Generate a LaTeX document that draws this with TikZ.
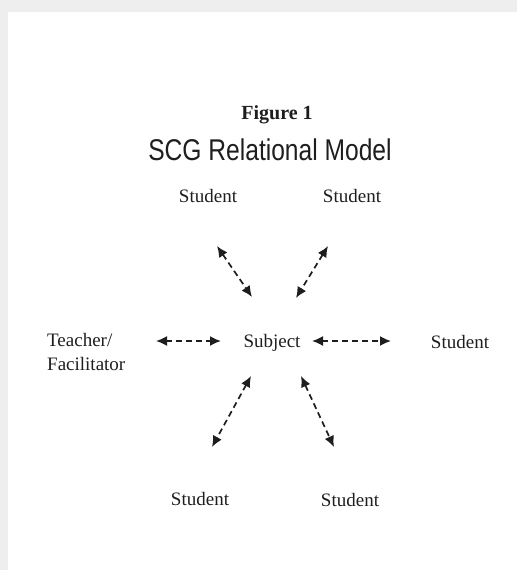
\documentclass[tikz,border=0pt]{standalone}
\usepackage{fontspec}
\setmainfont{Liberation Serif}
\newfontfamily\headfont{Liberation Sans}
\usepackage{tikz}
\usetikzlibrary{arrows.meta}

\definecolor{ink}{HTML}{1E1E1E}
\definecolor{frame}{HTML}{EEEEEE}

\tikzset{
  lbl/.style={inner sep=0pt, anchor=base, text=ink, font=\fontsize{19}{24}\selectfont},
  link/.style={<->, >={Latex[length=11pt,width=10pt]}, dash pattern=on 6pt off 4pt, line width=1.7, ink}
}

\begin{document}
\begin{tikzpicture}[x=1pt,y=-1pt]
  \useasboundingbox (0,0) rectangle (517,570);
  % grey edge round the page
  \fill[frame] (0,0) rectangle (517,12);
  \fill[frame] (0,0) rectangle (8,570);

  % heading
  \node[lbl, font=\fontsize{20}{24}\selectfont\bfseries](fig)  at (277,119) {Figure 1};
  \node[lbl, font=\fontsize{30}{36}\selectfont\headfont, xscale=0.82](title)  at (270,160) {SCG Relational Model};

  % the people round the subject
  \node[lbl](subj)  at (272,347) {Subject};
  \node[lbl](stuA)  at (208,202) {Student};
  \node[lbl](stuB)  at (352,202) {Student};
  \node[lbl](stuC)  at (460,348) {Student};
  \node[lbl](stuD)  at (200,505) {Student};
  \node[lbl](stuE)  at (350,506) {Student};
  \node[lbl, anchor=north west, align=left](teach)  at (47,333) {Teacher/\\Facilitator};

  % arrow ends
  \coordinate (a1) at (217,246);  \coordinate (a2) at (252,297);
  \coordinate (b1) at (328,246);  \coordinate (b2) at (296,298);
  \coordinate (c1) at (156,341);  \coordinate (c2) at (221,341);
  \coordinate (d1) at (312,341);  \coordinate (d2) at (391,341);
  \coordinate (e1) at (251,376);  \coordinate (e2) at (212,447);
  \coordinate (f1) at (301,376);  \coordinate (f2) at (334,447);

  \draw[link] (a1) -- (a2);
  \draw[link] (b1) -- (b2);
  \draw[link] (c1) -- (c2);
  \draw[link] (d1) -- (d2);
  \draw[link] (e1) -- (e2);
  \draw[link] (f1) -- (f2);
\end{tikzpicture}
\end{document}
